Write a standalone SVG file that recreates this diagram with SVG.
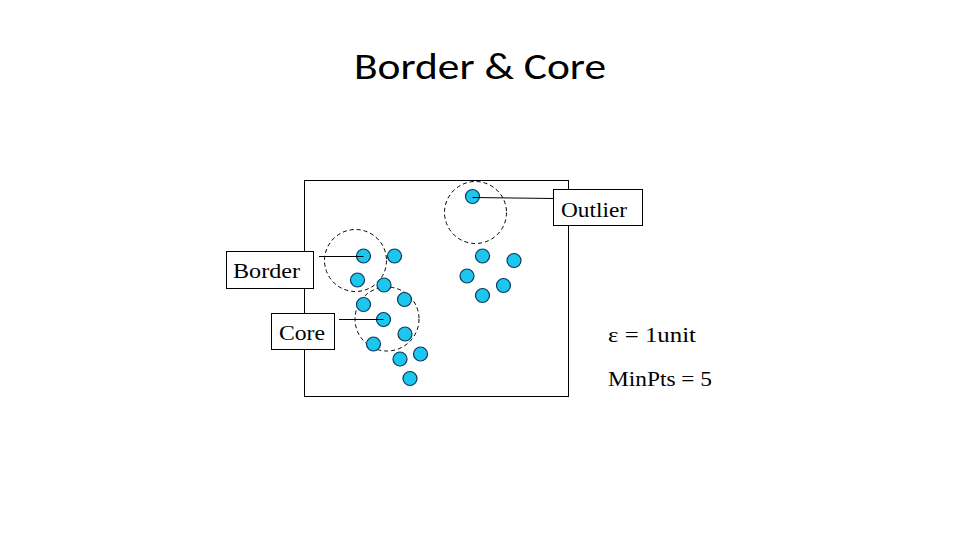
<svg xmlns="http://www.w3.org/2000/svg" width="960" height="540" viewBox="0 0 960 540">
<style>
.pt{fill:#1cc6ef;stroke:#0a3a5a;stroke-width:1.2}
.eps{fill:none;stroke:#000;stroke-width:1;stroke-dasharray:4,3}
.box{fill:#fff;stroke:#000;stroke-width:1}
.lbl{font-family:"Liberation Serif","Times New Roman",serif;font-size:22px;fill:#000}
.ln{stroke:#000;stroke-width:1;fill:none}
</style>
<rect width="960" height="540" fill="#fff"/>
<text x="480" y="79" text-anchor="middle" font-family="Carlito,'Liberation Sans',sans-serif" font-size="36" textLength="252" lengthAdjust="spacingAndGlyphs">Border &amp; Core</text>
<rect x="304.5" y="180.5" width="264" height="216" fill="none" stroke="#000" stroke-width="1"/>
<g id="neighborhoods">
<circle class="eps" cx="355.5" cy="260.5" r="31"/>
<circle class="eps" cx="387" cy="319" r="32"/>
<circle class="eps" cx="475.5" cy="212.5" r="31"/>
</g>
<g id="points">
<circle class="pt" cx="363.5" cy="256" r="7"/>
<circle class="pt" cx="394.5" cy="256" r="7"/>
<circle class="pt" cx="357.5" cy="280" r="7"/>
<circle class="pt" cx="384" cy="285" r="7"/>
<circle class="pt" cx="404.5" cy="299.5" r="7"/>
<circle class="pt" cx="363.5" cy="304.5" r="7"/>
<circle class="pt" cx="383.5" cy="319.5" r="7"/>
<circle class="pt" cx="405" cy="334" r="7"/>
<circle class="pt" cx="373.5" cy="344" r="7"/>
<circle class="pt" cx="400" cy="359" r="7"/>
<circle class="pt" cx="420.5" cy="354" r="7"/>
<circle class="pt" cx="410" cy="378.5" r="7"/>
<circle class="pt" cx="472.5" cy="196.5" r="7"/>
<circle class="pt" cx="482.5" cy="256" r="7"/>
<circle class="pt" cx="514" cy="260.5" r="7"/>
<circle class="pt" cx="467" cy="276" r="7"/>
<circle class="pt" cx="503.5" cy="285.5" r="7"/>
<circle class="pt" cx="482.5" cy="295.5" r="7"/>
</g>
<g id="connectors">
<line class="ln" x1="319" y1="256.5" x2="363.5" y2="256.5"/>
<line class="ln" x1="339" y1="319.5" x2="383.5" y2="319.5"/>
<line class="ln" x1="472.5" y1="197.5" x2="553.5" y2="198.5"/>
</g>
<g id="border-label">
<rect class="box" x="226.5" y="251.5" width="87" height="37"/>
<text class="lbl" x="233" y="277.5" textLength="67" lengthAdjust="spacingAndGlyphs">Border</text>
</g>
<g id="core-label">
<rect class="box" x="271.5" y="313.5" width="63" height="36"/>
<text class="lbl" x="279" y="339.5" textLength="46" lengthAdjust="spacingAndGlyphs">Core</text>
</g>
<g id="outlier-label">
<rect class="box" x="553.5" y="189.5" width="89" height="36"/>
<text class="lbl" x="561" y="216.5" textLength="66" lengthAdjust="spacingAndGlyphs">Outlier</text>
</g>
<g id="params">
<text class="lbl" x="608" y="341.5" textLength="88" lengthAdjust="spacingAndGlyphs">ε = 1unit</text>
<text class="lbl" x="608" y="386" textLength="104" lengthAdjust="spacingAndGlyphs">MinPts = 5</text>
</g>
</svg>
